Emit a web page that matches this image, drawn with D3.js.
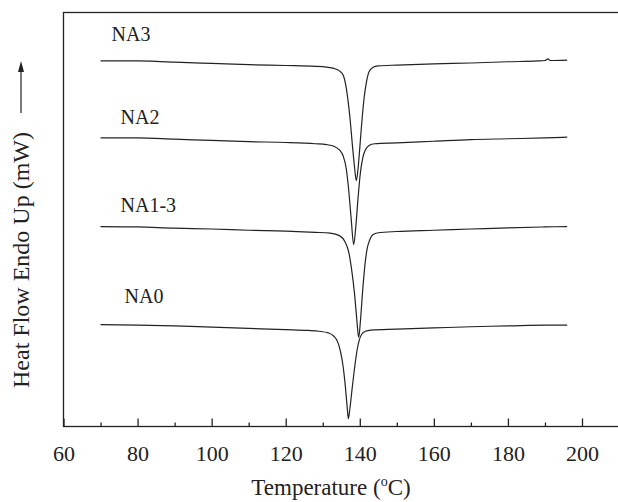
<!DOCTYPE html>
<meta charset="utf-8">
<style>
body { margin: 0; background: #fff; }
text { font-family: "Liberation Serif", "DejaVu Serif", serif; fill: #222; }
.curve { fill: none; stroke: #222; stroke-width: 1.2px; }
.frame { fill: none; stroke: #222; stroke-width: 1.3px; }
</style>
<script src="https://d3js.org/d3.v7.min.js"></script>
<div id="chart"></div>
<script>

// temperatures (C) and heat flow (arbitrary offset units, endo up)
var na3T = [70, 80, 85, 90, 100, 110, 120, 128, 131, 133, 134.5, 135.5, 136.2, 136.8, 137.4, 138.0, 138.6, 139.05, 139.5, 140.0, 140.6, 141.2, 141.8, 142.5, 143.5, 145, 150, 160, 170, 180, 188, 190, 190.8, 191.4, 196];
var na3V = [88.3, 88.3, 88.2, 88.0, 87.7, 87.4, 87.2, 87.0, 86.8, 86.5, 85.9, 84.9, 82.5, 78.9, 74.1, 68.0, 62.5, 59.4, 62.0, 67.3, 74.1, 79.6, 83.2, 85.7, 86.7, 87.1, 87.3, 87.6, 87.8, 88.1, 88.3, 88.4, 88.8, 88.4, 88.5];

var na2T = [70, 80, 90, 100, 110, 120, 128, 131, 133, 134.5, 135.5, 136.3, 137.0, 137.7, 138.35, 138.9, 139.5, 140.1, 140.8, 141.5, 142.5, 144, 150, 160, 170, 180, 190, 196];
var na2V = [69.7, 69.7, 69.4, 69.1, 68.8, 68.6, 68.3, 68.1, 67.7, 66.8, 65.4, 62.5, 57.2, 49.9, 43.9, 48.0, 54.8, 60.8, 64.9, 66.8, 67.9, 68.3, 68.5, 68.9, 69.3, 69.5, 69.7, 69.9];

var na13T = [70, 80, 90, 100, 110, 120, 128, 132, 134.5, 136, 137, 137.8, 138.6, 139.2, 139.7, 140.2, 140.8, 141.4, 142.0, 142.7, 143.5, 145, 150, 160, 170, 180, 190, 196];
var na13V = [48.3, 48.2, 47.9, 47.7, 47.4, 47.2, 46.9, 46.7, 46.1, 44.6, 42.2, 37.9, 31.9, 25.8, 21.5, 25.8, 33.1, 39.1, 43.0, 45.1, 46.3, 46.8, 47.1, 47.4, 47.7, 48.0, 48.2, 48.3];

var na0T = [70, 80, 90, 100, 110, 120, 126, 129, 131.5, 133, 134, 134.8, 135.5, 136.1, 136.6, 136.9, 137.3, 137.9, 138.6, 139.3, 139.9, 140.6, 141.5, 143, 150, 160, 170, 180, 190, 196];
var na0V = [24.6, 24.5, 24.3, 24.0, 23.7, 23.4, 23.2, 23.0, 22.6, 21.8, 20.5, 18.1, 14.5, 9.7, 4.6, 1.9, 4.1, 8.9, 14.2, 18.6, 21.0, 22.4, 23.0, 23.3, 23.5, 23.8, 24.1, 24.3, 24.5, 24.5];

var seriesNames = ["NA3", "NA2", "NA1-3", "NA0"];
var majorTicks = [60, 80, 100, 120, 140, 160, 180, 200];
var minorTicks = [70, 90, 110, 130, 150, 170, 190];

var series = [
  { name: seriesNames[0], T: na3T, V: na3V },
  { name: seriesNames[1], T: na2T, V: na2V },
  { name: seriesNames[2], T: na13T, V: na13V },
  { name: seriesNames[3], T: na0T, V: na0V }
];
// label placement (px) relative to first point of each curve
var labelDx = [11, 20, 20, 24];
var labelDy = [-20, -14, -15, -22];

var width = 618, height = 502;
var svg = d3.select("#chart").append("svg")
    .attr("width", width)
    .attr("height", height);

svg.append("rect")
    .attr("width", width)
    .attr("height", height)
    .attr("fill", "white");

var x = d3.scaleLinear().domain([60, 200]).range([63.5, 582]);
var y = d3.scaleLinear().domain([0, 100]).range([426.5, 12.5]);

// frame (right side falls just outside the picture)
svg.append("rect")
    .attr("class", "frame")
    .attr("x", x(60))
    .attr("y", y(100))
    .attr("width", x(210) - x(60))
    .attr("height", y(0) - y(100));

var xMajor = d3.axisBottom(x)
    .tickValues(majorTicks)
    .tickSizeInner(-8)
    .tickSizeOuter(0)
    .tickPadding(19)
    .tickFormat(d3.format("d"));

var gx = svg.append("g")
    .attr("transform", "translate(0," + y(0) + ")")
    .call(xMajor);
gx.select(".domain").remove();
gx.selectAll("line").attr("stroke", "#222").attr("stroke-width", 1.3);
gx.selectAll("text")
    .attr("fill", "#222")
    .style("font-size", "22px")
    .style("font-family", "Liberation Serif");

var xMinor = d3.axisBottom(x)
    .tickValues(minorTicks)
    .tickSizeInner(-4)
    .tickSizeOuter(0)
    .tickFormat("");

var gm = svg.append("g")
    .attr("transform", "translate(0," + y(0) + ")")
    .call(xMinor);
gm.select(".domain").remove();
gm.selectAll("line").attr("stroke", "#222").attr("stroke-width", 1.3);

var line = d3.line()
    .x(function(d) { return x(d[0]); })
    .y(function(d) { return y(d[1]); })
    .curve(d3.curveMonotoneX);

series.forEach(function(s, i) {
  var pts = s.T.map(function(t, j) { return [t, s.V[j]]; });
  svg.append("path")
      .attr("class", "curve")
      .attr("d", line(pts));
  svg.append("text")
      .attr("x", x(s.T[0]) + labelDx[i])
      .attr("y", y(s.V[0]) + labelDy[i])
      .style("font-size", "20px")
      .text(s.name);
});

// axis titles
var xt = svg.append("text")
    .attr("x", 331)
    .attr("y", 495)
    .attr("text-anchor", "middle")
    .style("font-size", "23px")
    .text("Temperature (");
xt.append("tspan")
    .attr("dy", -9)
    .style("font-size", "14px")
    .text("o");
xt.append("tspan")
    .attr("dy", 9)
    .text("C)");

svg.append("text")
    .attr("transform", "translate(29,260) rotate(-90)")
    .attr("text-anchor", "middle")
    .style("font-size", "24px")
    .text("Heat Flow Endo Up (mW)");

svg.append("line")
    .attr("x1", 21).attr("x2", 21)
    .attr("y1", 113).attr("y2", 70)
    .attr("stroke", "#222")
    .attr("stroke-width", 1.2);
svg.append("path")
    .attr("d", "M21,61 L18,72 L24,72 Z")
    .attr("fill", "#222");

</script>
